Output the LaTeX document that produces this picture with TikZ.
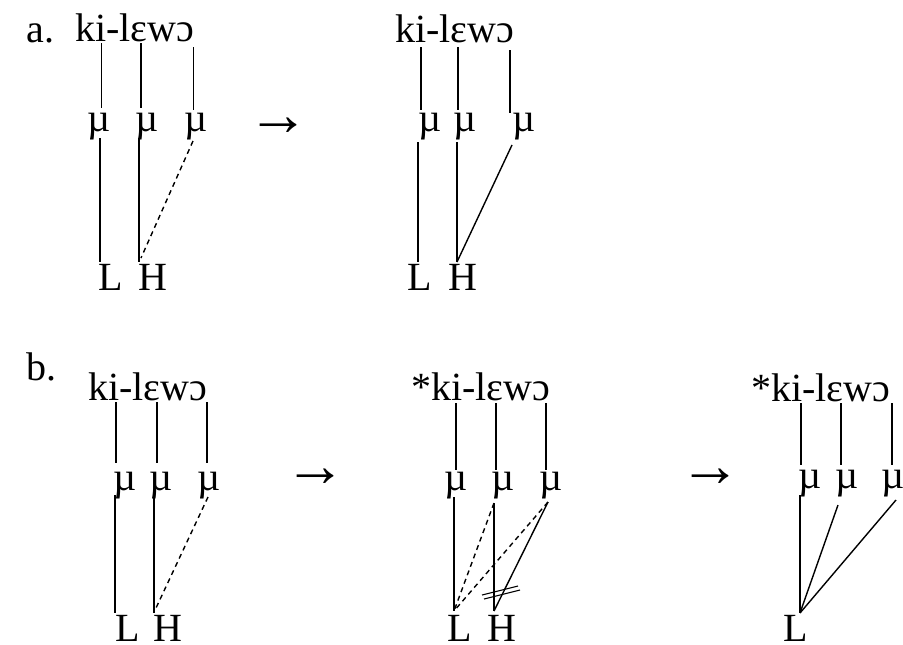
\documentclass[tikz,border=0pt]{standalone}
\usepackage{fontspec}
\setmainfont{Liberation Serif}
\begin{document}
\begin{tikzpicture}[x=1pt,y=-1pt,
  lbl/.style={font=\fontsize{40}{48}\selectfont, inner sep=0pt, outer sep=0pt},
  mora/.style={font=\fontsize{40}{48}\selectfont, inner sep=0pt, outer sep=0pt},
  arr/.style={font=\fontsize{62}{70}\selectfont, inner sep=0pt, outer sep=0pt},
  assoc/.style={line width=1.4pt},
  dashassoc/.style={line width=1.4pt, dash pattern=on 5pt off 4pt},
  strike/.style={line width=1.1pt},
]
\useasboundingbox (0,0) rectangle (903,645);

% ---------------- a. left ----------------
\node[lbl, anchor=base west] (la) at (27,42) {a.};
\node[lbl, anchor=base west] (wa1) at (75,41) {ki-lɛwɔ};
\node[mora, anchor=base] (ma11) at (99,131) {µ};
\node[mora, anchor=base] (ma12) at (147.5,131) {µ};
\node[mora, anchor=base] (ma13) at (196,131) {µ};
\node[lbl, anchor=base west] (La1) at (98,290) {L};
\node[lbl, anchor=base west] (Ha1) at (138,290) {H};
\coordinate (pa11) at (101.7,43);  \coordinate (qa11) at (101.7,108);
\coordinate (pa12) at (141,43);    \coordinate (qa12) at (141,108);
\coordinate (pa13) at (193.3,47);  \coordinate (qa13) at (193.3,110);
\coordinate (ra11) at (100,138);   \coordinate (sa11) at (100,262);
\coordinate (ra12) at (139,138);   \coordinate (sa12) at (139,262);
\coordinate (ra13) at (193,141);   \coordinate (sa13) at (141,258);
\draw[assoc] (pa11) -- (qa11);
\draw[assoc] (pa12) -- (qa12);
\draw[assoc] (pa13) -- (qa13);
\draw[assoc] (ra11) -- (sa11);
\draw[assoc] (ra12) -- (sa12);
\draw[dashassoc] (ra13) -- (sa13);

\node[arr] (arra) at (278,127) {→};

% ---------------- a. right ----------------
\node[lbl, anchor=base west] (wa2) at (395,42) {ki-lɛwɔ};
\node[mora, anchor=base] (ma21) at (430,131) {µ};
\node[mora, anchor=base] (ma22) at (465,131) {µ};
\node[mora, anchor=base] (ma23) at (524,131) {µ};
\node[lbl, anchor=base west] (La2) at (407,290) {L};
\node[lbl, anchor=base west] (Ha2) at (448,290) {H};
\coordinate (pa21) at (421,47);  \coordinate (qa21) at (421,110);
\coordinate (pa22) at (458,47);  \coordinate (qa22) at (458,110);
\coordinate (pa23) at (510,50);  \coordinate (qa23) at (510,113);
\coordinate (ra21) at (418,142); \coordinate (sa21) at (418,262);
\coordinate (ra22) at (457,142); \coordinate (sa22) at (457,262);
\coordinate (ra23) at (512,145);
\draw[assoc] (pa21) -- (qa21);
\draw[assoc] (pa22) -- (qa22);
\draw[assoc] (pa23) -- (qa23);
\draw[assoc] (ra21) -- (sa21);
\draw[assoc] (ra22) -- (sa22);
\draw[assoc] (ra23) -- (sa22);

% ---------------- b. left ----------------
\node[lbl, anchor=base west] (lb) at (27,380) {b.};
\node[lbl, anchor=base west] (wb1) at (88,400) {ki-lɛwɔ};
\node[mora, anchor=base] (mb11) at (125,490) {µ};
\node[mora, anchor=base] (mb12) at (161.5,490) {µ};
\node[mora, anchor=base] (mb13) at (209,490) {µ};
\node[lbl, anchor=base west] (Lb1) at (115,641) {L};
\node[lbl, anchor=base west] (Hb1) at (153,641) {H};
\coordinate (pb11) at (116,402); \coordinate (qb11) at (116,463);
\coordinate (pb12) at (157,402); \coordinate (qb12) at (157,463);
\coordinate (pb13) at (207,402); \coordinate (qb13) at (207,463);
\coordinate (rb11) at (115,495); \coordinate (sb11) at (115,613);
\coordinate (rb12) at (154,495); \coordinate (sb12) at (154,613);
\coordinate (rb13) at (208,497); \coordinate (sb13) at (156,608);
\draw[assoc] (pb11) -- (qb11);
\draw[assoc] (pb12) -- (qb12);
\draw[assoc] (pb13) -- (qb13);
\draw[assoc] (rb11) -- (sb11);
\draw[assoc] (rb12) -- (sb12);
\draw[dashassoc] (rb13) -- (sb13);

\node[arr] (arrb1) at (315,478) {→};

% ---------------- b. middle ----------------
\node[lbl, anchor=base west] (wb2) at (411,400) {*ki-lɛwɔ};
\node[mora, anchor=base] (mb21) at (456,490) {µ};
\node[mora, anchor=base] (mb22) at (503.5,490) {µ};
\node[mora, anchor=base] (mb23) at (551.5,490) {µ};
\node[lbl, anchor=base west] (Lb2) at (447,641) {L};
\node[lbl, anchor=base west] (Hb2) at (487,641) {H};
\coordinate (pb21) at (456,403); \coordinate (qb21) at (456,470);
\coordinate (pb22) at (496,403); \coordinate (qb22) at (496,470);
\coordinate (pb23) at (546,403); \coordinate (qb23) at (546,470);
\coordinate (rb21) at (454,497); \coordinate (sb21) at (454,611);
\coordinate (rb22) at (494,503); \coordinate (sb22) at (494,611);
\coordinate (rb23) at (548,502);
\draw[assoc] (pb21) -- (qb21);
\draw[assoc] (pb22) -- (qb22);
\draw[assoc] (pb23) -- (qb23);
\draw[assoc] (rb21) -- (sb21);
\draw[assoc] (rb22) -- (sb22);
\draw[dashassoc] (rb22) -- (sb21);
\draw[dashassoc] (rb23) -- (sb21);
\draw[assoc] (rb23) -- (sb22);
\coordinate (x1a) at (482,595); \coordinate (x1b) at (518,586);
\coordinate (x2a) at (484,599); \coordinate (x2b) at (520,590);
\draw[strike] (x1a) -- (x1b);
\draw[strike] (x2a) -- (x2b);

\node[arr] (arrb2) at (710,478) {→};

% ---------------- b. right ----------------
\node[lbl, anchor=base west] (wb3) at (751,401) {*ki-lɛwɔ};
\node[mora, anchor=base] (mb31) at (810,488) {µ};
\node[mora, anchor=base] (mb32) at (847,488) {µ};
\node[mora, anchor=base] (mb33) at (893,488) {µ};
\node[lbl, anchor=base west] (Lb3) at (783,641) {L};
\coordinate (pb31) at (801,403); \coordinate (qb31) at (801,465);
\coordinate (pb32) at (841,403); \coordinate (qb32) at (841,465);
\coordinate (pb33) at (892,403); \coordinate (qb33) at (892,465);
\coordinate (rb31) at (800,495); \coordinate (sb31) at (800,613);
\coordinate (rb32) at (838,505);
\coordinate (rb33) at (896,500);
\draw[assoc] (pb31) -- (qb31);
\draw[assoc] (pb32) -- (qb32);
\draw[assoc] (pb33) -- (qb33);
\draw[assoc] (rb31) -- (sb31);
\draw[assoc] (rb32) -- (sb31);
\draw[assoc] (rb33) -- (sb31);
\end{tikzpicture}
\end{document}
